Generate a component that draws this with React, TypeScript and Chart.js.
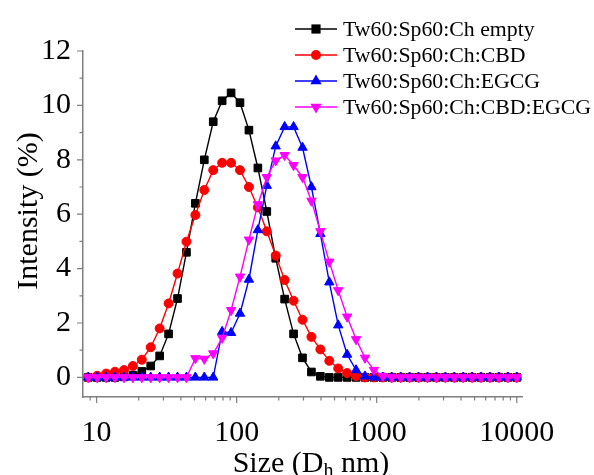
import React, { useEffect, useRef } from 'react';
import { Chart, registerables } from 'chart.js';

Chart.register(...registerables);

// Hydrodynamic size bins (nm)
const sizes = [
  8.721, 10.10, 11.70, 13.54, 15.69, 18.17, 21.04, 24.36, 28.21, 32.67,
  37.84, 43.82, 50.75, 58.77, 68.06, 78.82, 91.28, 105.7, 122.4, 141.8,
  164.2, 190.1, 220.2, 255.0, 295.3, 342.0, 396.1, 458.7, 531.2, 615.1,
  712.4, 825.0, 955.4, 1106, 1281, 1484, 1718, 1990, 2305, 2669,
  3091, 3580, 4145, 4801, 5560, 6439, 7456, 8635, 10000,
];

const emptyValues = [
  0, 0, 0, 0, 0.02, 0.08, 0.22, 0.42, 0.79, 1.6,
  2.9, 4.6, 6.4, 8.0, 9.4, 10.17, 10.46, 10.1, 9.09, 7.7,
  6.1, 4.38, 2.88, 1.6, 0.72, 0.2, 0.04, 0, 0, 0,
  0, 0, 0, 0, 0, 0, 0, 0, 0, 0,
  0, 0, 0, 0, 0, 0, 0, 0, 0,
];

const cbdValues = [
  0, 0.06, 0.14, 0.21, 0.27, 0.42, 0.65, 1.11, 1.8, 2.72,
  3.82, 4.99, 5.97, 6.89, 7.62, 7.89, 7.89, 7.62, 7.0, 6.25,
  5.37, 4.48, 3.58, 2.82, 2.12, 1.49, 1.03, 0.61, 0.33, 0.16,
  0.05, 0, 0, 0, 0, 0, 0, 0, 0, 0,
  0, 0, 0, 0, 0, 0, 0, 0, 0,
];

const egcgValues = [
  0, 0, 0, 0, 0, 0, 0, 0, 0, 0,
  0, 0, 0, 0, 0, 1.68, 1.64, 2.35, 3.6, 5.42,
  7.05, 8.5, 9.21, 9.21, 8.45, 7.0, 5.28, 3.5, 1.92, 0.84,
  0.27, 0.04, 0, 0, 0, 0, 0, 0, 0, 0,
  0, 0, 0, 0, 0, 0, 0, 0, 0,
];

const cbdEgcgValues = [
  0, 0, 0, 0, 0, 0, 0, 0, 0, 0,
  0, 0, 0.7, 0.68, 0.88, 1.45, 2.47, 3.7, 5.06, 6.36,
  7.36, 7.97, 8.17, 7.8, 7.36, 6.49, 5.37, 4.25, 3.2, 2.23,
  1.4, 0.72, 0.27, 0.05, 0, 0, 0, 0, 0, 0,
  0, 0, 0, 0, 0, 0, 0, 0, 0,
];

const seriesLabels = [
  'Tw60:Sp60:Ch empty',
  'Tw60:Sp60:Ch:CBD',
  'Tw60:Sp60:Ch:EGCG',
  'Tw60:Sp60:Ch:CBD:EGCG',
];

const xMajorTicks = [10, 100, 1000, 10000];
const xMinorTicks = [
  9, 20, 30, 40, 50, 60, 70, 80, 90,
  200, 300, 400, 500, 600, 700, 800, 900,
  2000, 3000, 4000, 5000, 6000, 7000, 8000, 9000,
];
const yMajorTicks = [0, 2, 4, 6, 8, 10, 12];
const yMinorTicks = [1, 3, 5, 7, 9, 11];

const FONT = "'Liberation Serif', 'Times New Roman', serif";
const AXIS_COLOR = '#7f7f7f';

function drawMarker(ctx: CanvasRenderingContext2D, style: string, rotation: number, r: number, x: number, y: number) {
  ctx.beginPath();
  if (style === 'rect') {
    const s = Math.SQRT1_2 * r;
    ctx.rect(x - s, y - s, 2 * s, 2 * s);
  } else if (style === 'circle') {
    ctx.arc(x, y, r, 0, Math.PI * 2);
  } else {
    let rad = (rotation * Math.PI) / 180;
    ctx.moveTo(x + Math.sin(rad) * r, y - Math.cos(rad) * r);
    rad += (2 * Math.PI) / 3;
    ctx.lineTo(x + Math.sin(rad) * r, y - Math.cos(rad) * r);
    rad += (2 * Math.PI) / 3;
    ctx.lineTo(x + Math.sin(rad) * r, y - Math.cos(rad) * r);
    ctx.closePath();
  }
  ctx.fill();
}

const decorPlugin = {
  id: 'decor',
  afterDraw(chart: any) {
    const ctx: CanvasRenderingContext2D = chart.ctx;
    const xs = chart.scales.x;
    const ys = chart.scales.y;
    const area = chart.chartArea;
    ctx.save();
    // tick marks
    ctx.strokeStyle = AXIS_COLOR;
    ctx.lineWidth = 1.2;
    ctx.beginPath();
    for (const v of xMajorTicks) {
      const px = xs.getPixelForValue(v);
      ctx.moveTo(px, area.bottom);
      ctx.lineTo(px, area.bottom + 6);
    }
    for (const v of xMinorTicks) {
      const px = xs.getPixelForValue(v);
      ctx.moveTo(px, area.bottom);
      ctx.lineTo(px, area.bottom + 3.5);
    }
    for (const v of yMajorTicks) {
      const py = ys.getPixelForValue(v);
      ctx.moveTo(area.left, py);
      ctx.lineTo(area.left - 6, py);
    }
    for (const v of yMinorTicks) {
      const py = ys.getPixelForValue(v);
      ctx.moveTo(area.left, py);
      ctx.lineTo(area.left - 3.5, py);
    }
    ctx.stroke();

    // x title with subscript
    ctx.fillStyle = '#000';
    ctx.textBaseline = 'alphabetic';
    ctx.textAlign = 'left';
    const big = `30px ${FONT}`;
    const small = `20px ${FONT}`;
    const p1 = 'Size (D';
    const p2 = 'h';
    const p3 = ' nm)';
    ctx.font = big;
    const w1 = ctx.measureText(p1).width;
    const w3 = ctx.measureText(p3).width;
    ctx.font = small;
    const w2 = ctx.measureText(p2).width;
    const total = w1 + w2 + w3;
    let tx = 311 - total / 2;
    const base = 472;
    ctx.font = big;
    ctx.fillText(p1, tx, base);
    tx += w1;
    ctx.font = small;
    ctx.fillText(p2, tx, base + 5);
    tx += w2;
    ctx.font = big;
    ctx.fillText(p3, tx, base);

    // y title
    ctx.save();
    ctx.translate(29, 211);
    ctx.rotate(-Math.PI / 2);
    ctx.textAlign = 'center';
    ctx.textBaseline = 'middle';
    ctx.font = big;
    ctx.fillText('Intensity (%)', 0, 0);
    ctx.restore();

    // legend
    const rows = [29, 55, 81, 107];
    const legendR: Record<string, number> = { rect: 6.5, circle: 5, triangle: 6.5 };
    chart.data.datasets.forEach((ds: any, i: number) => {
      const yy = rows[i];
      ctx.strokeStyle = ds.borderColor;
      ctx.fillStyle = ds.borderColor;
      ctx.lineWidth = 1.5;
      ctx.beginPath();
      ctx.moveTo(295, yy);
      ctx.lineTo(337, yy);
      ctx.stroke();
      drawMarker(ctx, ds.pointStyle, ds.pointRotation || 0, legendR[ds.pointStyle], 316, yy);
      ctx.fillStyle = '#000';
      ctx.font = `21.8px ${FONT}`;
      ctx.textAlign = 'left';
      ctx.textBaseline = 'middle';
      ctx.fillText(ds.label, 343, yy + 1);
    });
    ctx.restore();
  },
};

export default function App() {
  const ref = useRef<HTMLCanvasElement | null>(null);
  useEffect(() => {
    if (!ref.current) return;
    const mk = (vals: number[]) => sizes.map((s, i) => ({ x: s, y: vals[i] }));
    const common = {
      borderWidth: 1.4,
      pointBorderWidth: 1,
      tension: 0,
      fill: false,
    };
    const chart = new Chart(ref.current, {
      type: 'line',
      data: {
        datasets: [
          {
            ...common,
            label: seriesLabels[0],
            data: mk(emptyValues),
            borderColor: '#000000',
            backgroundColor: '#000000',
            pointStyle: 'rect',
            pointRadius: 5.4,
            order: 4,
          },
          {
            ...common,
            label: seriesLabels[1],
            data: mk(cbdValues),
            borderColor: '#ff0000',
            backgroundColor: '#ff0000',
            pointStyle: 'circle',
            pointRadius: 4.5,
            order: 3,
          },
          {
            ...common,
            label: seriesLabels[2],
            data: mk(egcgValues),
            borderColor: '#0000ff',
            backgroundColor: '#0000ff',
            pointStyle: 'triangle',
            pointRadius: 5.4,
            order: 2,
          },
          {
            ...common,
            label: seriesLabels[3],
            data: mk(cbdEgcgValues),
            borderColor: '#ff00ff',
            backgroundColor: '#ff00ff',
            pointStyle: 'triangle',
            pointRotation: 180,
            pointRadius: 5.4,
            order: 1,
          },
        ] as any,
      },
      options: {
        animation: false,
        responsive: false,
        devicePixelRatio: 1,
        layout: { padding: { left: 0, right: 72, top: 51, bottom: 0 } },
        plugins: {
          legend: { display: false },
          tooltip: { enabled: false },
        },
        scales: {
          x: {
            type: 'logarithmic',
            min: 8,
            max: 10900,
            grid: { display: false, drawTicks: false },
            border: { display: true, color: AXIS_COLOR, width: 1.5 },
            afterBuildTicks: (scale: any) => {
              scale.ticks = xMajorTicks.map((v) => ({ value: v }));
            },
            afterFit: (scale: any) => {
              scale.height = 78;
            },
            ticks: {
              autoSkip: false,
              maxRotation: 0,
              padding: 18,
              color: '#000',
              font: { family: FONT, size: 30 },
              callback: (v: any) => String(v),
            },
          },
          y: {
            type: 'linear',
            min: -0.72,
            max: 12,
            grid: { display: false, drawTicks: false },
            border: { display: true, color: AXIS_COLOR, width: 1.5 },
            afterBuildTicks: (scale: any) => {
              scale.ticks = yMajorTicks.map((v) => ({ value: v }));
            },
            afterFit: (scale: any) => {
              scale.width = 83;
            },
            ticks: {
              padding: 12,
              color: '#000',
              font: { family: FONT, size: 30 },
              callback: (v: any) => String(v),
            },
          },
        },
      } as any,
      plugins: [decorPlugin],
    });
    return () => chart.destroy();
  }, []);
  return (
    <div style={{ position: 'absolute', left: 0, top: 0, width: 594, height: 475 }}>
      <canvas ref={ref} width={594} height={475} />
    </div>
  );
}
